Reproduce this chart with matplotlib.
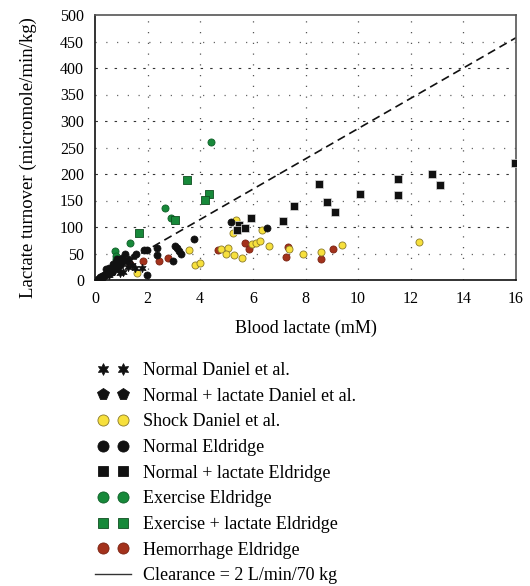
import matplotlib
matplotlib.use("Agg")
import matplotlib.pyplot as plt
import numpy as np
from matplotlib.lines import Line2D
from matplotlib.legend_handler import HandlerLine2D

plt.rcParams['font.family'] = ['Liberation Serif', 'DejaVu Serif']

# ---- data ----
nd_x = [0.30, 0.45, 0.60, 0.75, 0.90, 1.08, 1.25, 1.52, 1.77, 1.40, 0.55, 0.95]
nd_y = [8, 12, 14, 18, 20, 16, 24, 22, 22, 28, 10, 14]

nld_x = [0.50, 0.70, 0.90, 1.10, 1.30, 1.50, 0.80, 1.00, 0.60]
nld_y = [22, 28, 32, 38, 40, 45, 35, 42, 25]

shock_x = [1.58, 3.59, 3.80, 4.00, 4.78, 5.07, 4.99, 5.28, 5.57, 5.36, 5.26, 6.35,
           5.97, 6.11, 6.27, 6.60, 7.89, 8.59, 9.40, 12.31, 7.39]
shock_y = [13, 56, 28, 33, 58, 60, 49, 48, 41, 113, 88, 94,
           68, 69, 73, 64, 50, 52, 66, 71, 58]

ne_x = [0.13, 0.20, 0.25, 0.30, 0.35, 0.40, 0.45, 0.50, 0.55, 0.60, 0.65, 0.70,
        0.80, 0.90, 1.00, 1.13, 1.57, 1.87, 1.96, 1.99, 2.34, 2.37, 2.98, 3.04,
        3.13, 3.20, 3.26, 3.78, 5.17, 6.54, 0.85, 1.20, 0.40, 0.70]
ne_y = [1, 5, 8, 6, 10, 12, 14, 11, 16, 18, 15, 20,
        24, 28, 30, 49, 49, 57, 57, 9, 60, 48, 36, 65,
        60, 55, 50, 77, 109, 99, 40, 35, 20, 30]

nle_x = [5.92, 5.47, 5.69, 5.40, 7.13, 7.55, 8.51, 8.80, 9.11, 10.07, 11.50, 11.50,
         12.81, 13.11, 15.96]
nle_y = [117, 103, 99, 94, 111, 140, 182, 147, 128, 162, 191, 161,
         200, 180, 221]

ex_x = [4.41, 2.67, 2.89, 1.32, 0.77, 0.80, 0.78]
ex_y = [261, 135, 117, 70, 55, 45, 40]

exl_x = [3.50, 4.32, 4.17, 3.03, 1.66]
exl_y = [189, 162, 151, 113, 89]

hem_x = [1.33, 1.81, 2.43, 2.79, 4.66, 5.69, 5.85, 7.35, 7.26, 8.59, 9.06]
hem_y = [31, 36, 36, 41, 56, 69, 59, 62, 43, 40, 58]

clear_x = [0, 16]
clearance_slope = 2000 / 70  # 2 L/min/70 kg

x_ticks = [0, 2, 4, 6, 8, 10, 12, 14, 16]
y_ticks = [0, 50, 100, 150, 200, 250, 300, 350, 400, 450, 500]

labels = ["Normal Daniel et al.", "Normal + lactate Daniel et al.", "Shock Daniel et al.",
          "Normal Eldridge", "Normal + lactate Eldridge", "Exercise Eldridge",
          "Exercise + lactate Eldridge", "Hemorrhage Eldridge", "Clearance = 2 L/min/70 kg"]

YEL = "#F7E03C"
GRN = "#17893A"
RED = "#A3321C"
BLK = "#111111"

fig = plt.figure(figsize=(5.30, 5.86), dpi=100)
ax = fig.add_axes([95/530, 1-280/586, 421/530, 265/586])

ax.set_xlim(0, 16)
ax.set_ylim(0, 500)
ax.set_xticks(x_ticks)
ax.set_yticks(y_ticks)
ax.tick_params(length=0, labelsize=11.5, pad=8)

# grid: dotted vertical lines, alternating dashed / dotted horizontal lines
for xv in x_ticks[1:-1]:
    ax.axvline(xv, color="#555555", linestyle=(0, (1, 7.6)), linewidth=0.9, zorder=1)
for yv in y_ticks[1:-1]:
    if yv % 100 == 0:
        ax.axhline(yv, color="#333333", linestyle=(0, (2.2, 6.4)), linewidth=0.8, zorder=1)
    else:
        ax.axhline(yv, color="#666666", linestyle=(0, (1, 7.6)), linewidth=0.9, zorder=1)

for name, s in ax.spines.items():
    s.set_linewidth(1.2)
    s.set_color("#111111" if name in ("left", "bottom") else "#555555")

ms = 26
sq = 40
cx = np.array(clear_x)
ax.plot(cx, clearance_slope * cx, color=BLK, linestyle=(0, (5, 3)), linewidth=1.2, zorder=2)
ax.scatter(hem_x, hem_y, s=ms, c=RED, edgecolors="#7a2414", linewidths=0.6, zorder=3)
ax.scatter(shock_x, shock_y, s=ms, c=YEL, edgecolors="#8a7a2a", linewidths=0.6, zorder=3)
ax.scatter(nle_x, nle_y, s=sq, marker="s", c=BLK, edgecolors="#dddddd", linewidths=0.5, zorder=3)
ax.scatter(ex_x, ex_y, s=ms, c=GRN, edgecolors="#0f5e28", linewidths=0.6, zorder=3)
ax.scatter(exl_x, exl_y, s=sq, marker="s", c=GRN, edgecolors="#0f4e20", linewidths=0.6, zorder=3)
ax.scatter(ne_x, ne_y, s=ms, c=BLK, edgecolors=BLK, linewidths=0.5, zorder=4)
ax.scatter(nld_x, nld_y, s=ms, marker="p", c=BLK, edgecolors=BLK, linewidths=0.5, zorder=4)
ax.scatter(nd_x, nd_y, s=36, marker=(6, 1, 0), c=BLK, edgecolors=BLK, linewidths=0.5, zorder=4)

ax.set_xlabel("Blood lactate (mM)", fontsize=13, labelpad=9)
ax.set_ylabel("Lactate turnover (micromole/min/kg)", fontsize=13.5)
ax.yaxis.set_label_coords(-0.137, 0.462)

def mk(marker, fc, ec, size=8):
    return Line2D([], [], linestyle="none", marker=marker, markersize=size,
                  markerfacecolor=fc, markeredgecolor=ec, markeredgewidth=0.6)

handles = [mk((6, 1, 0), BLK, BLK, 8.5), mk("p", BLK, BLK, 8.5), mk("o", YEL, "#8a7a2a"),
           mk("o", BLK, BLK), mk("s", BLK, BLK, 7.3), mk("o", GRN, "#0f5e28"),
           mk("s", GRN, "#0f4e20", 7.3), mk("o", RED, "#7a2414"),
           Line2D([], [], color="#333333", linewidth=1.0)]

lfs = 13
fs = lfs * 100 / 72
hm = {h: HandlerLine2D(numpoints=2, marker_pad=8/fs) for h in handles[:-1]}
hm[handles[-1]] = HandlerLine2D(numpoints=1)

fig.legend(handles, labels, loc="upper left", bbox_to_anchor=(95/530, 1-362/586),
           frameon=False, fontsize=lfs, handlelength=36/fs, handletextpad=12/fs,
           labelspacing=0.48, borderaxespad=0, borderpad=0, handler_map=hm)

fig.savefig("out.png", dpi=100)
